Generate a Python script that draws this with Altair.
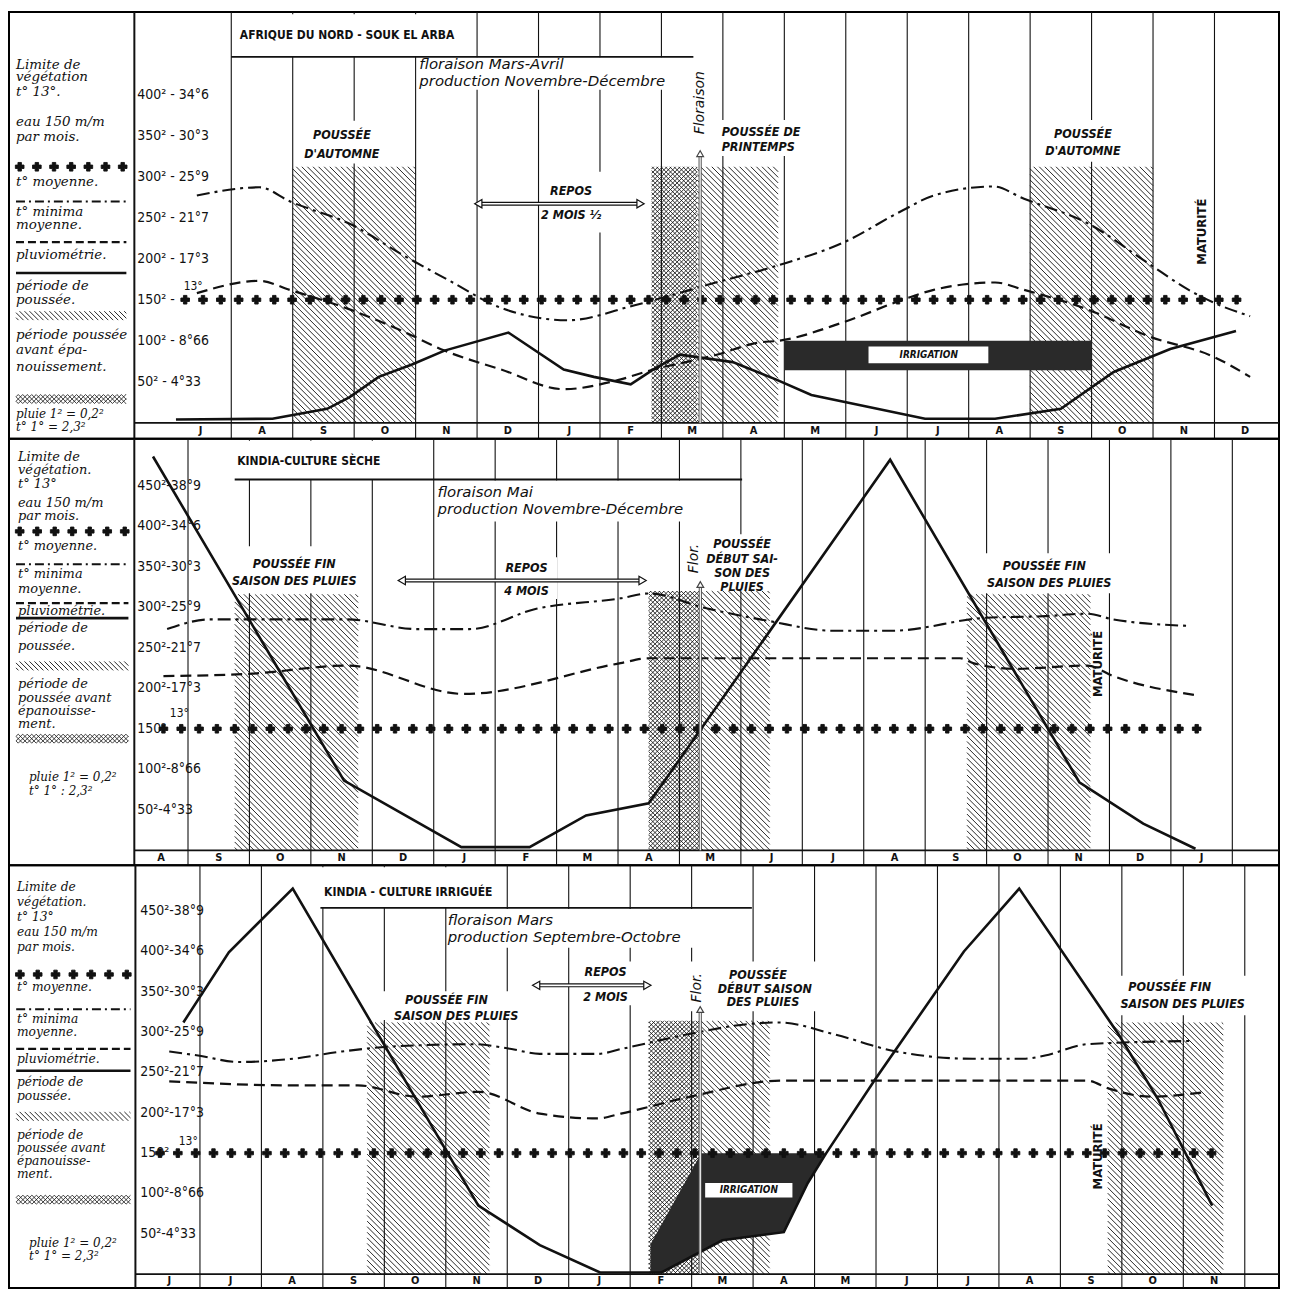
import altair as alt
import numpy as np
import pandas as pd

# ============================ DATA ============================
LIMIT = 150  # limite de végétation : t° 13° / eau 150 m/m par mois

# ---- Panel 1 : Afrique du Nord - Souk el Arba (x = months from July, y = chart units)
P1_MONTHS = ["J", "A", "S", "O", "N", "D", "J", "F", "M", "A", "M", "J", "J", "A", "S", "O", "N", "D"]
P1_RAIN_M = [0.10, 1.67, 2.56, 2.92, 3.40, 3.94, 4.47, 5.51, 6.41, 6.90, 7.50, 7.87, 8.30, 9.16, 9.86,
             10.44, 12.29, 13.43, 14.50, 15.36, 16.28, 17.35]
P1_RAIN = [4, 5, 17, 31, 56, 71, 88, 110, 65, 56, 47, 65, 83, 74, 53, 34, 5, 5, 17, 62, 90, 112]
P1_TMEAN_M = [0.44, 1.46, 1.95, 2.97, 3.78, 4.58, 5.39, 6.48, 7.55, 8.47, 8.84, 9.86, 10.94, 11.93,
              12.43, 13.40, 13.90, 14.94, 15.91, 16.58, 17.00, 17.58]
P1_TMEAN = [277, 287, 270, 241, 205, 172, 140, 125, 143, 162, 170, 191, 219, 259, 277, 288, 273, 243,
            195, 162, 146, 130]
P1_TMIN_M = [0.44, 1.46, 1.95, 2.97, 3.78, 4.47, 5.39, 6.41, 7.29, 7.87, 8.52, 8.90, 9.60, 9.91, 10.94,
             11.93, 12.43, 13.43, 13.90, 14.94, 15.91, 17.00, 17.58]
P1_TMIN = [158, 173, 162, 137, 112, 88, 65, 41, 52, 65, 76, 83, 98, 100, 122, 150, 162, 171, 162, 138,
           106, 80, 56]

# ---- Panel 2 : Kindia - culture sèche (months from August)
P2_MONTHS = ["A", "S", "O", "N", "D", "J", "F", "M", "A", "M", "J", "J", "A", "S", "O", "N", "D", "J"]
P2_RAIN_M = [0.43, 3.54, 5.45, 6.56, 7.48, 8.50, 12.43, 15.51, 16.55, 17.40]
P2_RAIN = [486, 86, 4, 4, 43, 58, 482, 84, 33, 2]
P2_TMEAN_M = [0.66, 1.36, 3.58, 4.73, 5.58, 6.67, 8.04, 8.50, 9.42, 10.46, 11.49, 12.46, 13.99, 14.96,
              15.64, 16.06, 17.27]
P2_TMEAN = [273, 285, 285, 273, 273, 298, 311, 317, 299, 283, 271, 271, 287, 289, 292, 285, 277]
P2_TMIN_M = [0.60, 2.04, 3.58, 5.49, 8.04, 8.50, 13.57, 13.78, 14.47, 15.64, 16.06, 17.44]
P2_TMIN = [215, 218, 228, 193, 231, 237, 237, 231, 224, 228, 215, 191]

# ---- Panel 3 : Kindia - culture irriguée (months from June)
P3_MONTHS = ["J", "J", "A", "S", "O", "N", "D", "J", "F", "M", "A", "M", "J", "J", "A", "S", "O", "N"]
P3_RAIN_M = [0.73, 1.47, 2.51, 5.53, 6.53, 7.51, 8.51, 9.50, 10.50, 10.89, 11.19, 11.99, 13.43, 14.33,
             15.94, 16.58, 17.47]
P3_RAIN = [312, 399, 478, 85, 36, 2, 2, 42, 52, 113, 150, 242, 400, 478, 298, 218, 85]
P3_TMEAN_M = [0.50, 0.97, 1.63, 2.51, 3.31, 4.09, 5.47, 6.07, 6.53, 7.47, 7.85, 8.98, 9.92, 10.43, 11.29,
              12.33, 13.57, 14.40, 14.75, 15.43, 17.10]
P3_TMEAN = [276, 271, 263, 267, 276, 282, 285, 279, 273, 273, 279, 298, 310, 312, 298, 276, 267, 267,
            271, 285, 289]
P3_TMIN_M = [0.50, 2.51, 3.57, 4.53, 5.53, 6.53, 7.47, 7.85, 8.98, 10.47, 15.43, 15.79, 16.47, 17.38]
P3_TMIN = [239, 234, 234, 220, 226, 199, 193, 199, 220, 240, 240, 230, 220, 226]

# ---- scale labels (pluviométrie / température)
P1_TICKS = [400, 350, 300, 250, 200, 150, 100, 50]
P1_TICK_LABELS = ["400² - 34°6", "350² - 30°3", "300² - 25°9", "250² - 21°7", "200² - 17°3",
                  "150² -", "100² - 8°66", "50² - 4°33"]
P23_TICKS = [450, 400, 350, 300, 250, 200, 150, 100, 50]
P23_TICK_LABELS = ["450²-38°9", "400²-34°6", "350²-30°3", "300²-25°9", "250²-21°7", "200²-17°3",
                   "150²", "100²-8°66", "50²-4°33"]

# ============================ STYLE / LAYOUT ============================
W = 1274
F_COND = "Liberation Sans Narrow, DejaVu Sans Condensed, Roboto, sans-serif"
F_SANS = "DejaVu Sans, Liberation Sans, sans-serif"
F_HAND = "DejaVu Serif, Liberation Serif, serif"
INK = "#111111"

PANELS = [
    dict(
        xdom=(-2.617, 18.05), ydom=(-19.3, 500.6), height=428, legend_m=-0.577, grid_k=range(1, 18),
        months=P1_MONTHS, ticks=P1_TICKS, tick_labels=P1_TICK_LABELS, tick_m=-0.53, thirteen=(0.38, 167),
        cross_span=(0.25, 17.37),
        rain=(P1_RAIN_M, P1_RAIN), tmean=(P1_TMEAN_M, P1_TMEAN), tmin=(P1_TMIN_M, P1_TMIN),
        hatch=[(2.0, 4.0, 312), (8.58, 9.9, 312), (14.0, 16.0, 312)], xhatch=[(7.84, 8.58, 312)],
        blanks=[(1.02, 4.9, 446.5, 498), (4.02, 8.5, 406, 445.5), (2.11, 3.61, 316, 368),
                (6.04, 7.08, 232, 306), (8.95, 10.49, 325, 369), (14.21, 15.51, 318, 369)],
        title=("AFRIQUE DU NORD - SOUK EL ARBA", 1.14, 473), underline=(1.0, 8.52, 446),
        flor=[("floraison Mars-Avril", 4.06, 437), ("production Novembre-Décembre", 4.06, 416)],
        caps_c=[("POUSSÉE", 2.80, 351), ("D'AUTOMNE", 2.80, 327), ("REPOS", 6.53, 282),
                ("2 MOIS ½", 6.53, 253), ("POUSSÉE", 14.86, 352), ("D'AUTOMNE", 14.86, 331)],
        caps_l=[("POUSSÉE DE", 8.98, 354), ("PRINTEMPS", 8.98, 336)],
        repos=(5.02, 7.66, 267), arrow=(8.63, 328), arrow_text=("Floraison", 8.63, 390), maturite=(16.79, 233),
        irrig_rect=(10.0, 15.0, 64, 100), irrig_box=(11.37, 13.32, 72.5, 93), irrig_text=(12.35, 82.7),
        leg_m=-2.503, sym=(-2.503, -0.707), leg_font=13.5,
        leg_lines=[("Limite de", 436.5), ("végétation", 420.8), ("t° 13°.", 402.7), ("eau 150 m/m", 366.4),
                   ("par mois.", 348.2), ("t° moyenne.", 293.8), ("t° minima", 256.3), ("moyenne.", 240.6),
                   ("pluviométrie.", 204.4), ("période de", 166.9), ("poussée.", 149.9),
                   ("période poussée", 107.6), ("avant épa-", 88.3), ("nouissement.", 67.7)],
        leg_tail=[("pluie 1² = 0,2²", 10.5), ("t° 1° = 2,3²", -5.5)], tail_m=-2.503,
        sym_v=dict(cross=312, dashdot=269.6, dashed=220.1, solid=182.6, hatch=130.6, xhatch=29),
    ),
    dict(
        xdom=(-1.914, 18.76), ydom=(-18.5, 508.0), height=428, legend_m=0.126, grid_k=range(1, 19),
        months=P2_MONTHS, ticks=P23_TICKS, tick_labels=P23_TICK_LABELS, tick_m=0.175, thirteen=(0.86, 170),
        cross_span=(0.60, 17.6),
        rain=(P2_RAIN_M, P2_RAIN), tmean=(P2_TMEAN_M, P2_TMEAN), tmin=(P2_TMIN_M, P2_TMIN),
        hatch=[(1.76, 3.77, 316), (9.34, 10.47, 320), (13.68, 15.69, 316)], xhatch=[(8.50, 9.34, 320)],
        blanks=[(1.76, 4.94, 458.2, 505.5), (5.06, 9.58, 405.9, 456.3), (1.76, 3.77, 317.3, 375.2),
                (6.02, 7.01, 310, 361.6), (9.15, 10.73, 319.8, 390), (13.92, 16.16, 317.3, 366.5)],
        title=("KINDIA-CULTURE SÈCHE", 1.80, 480), underline=(1.76, 10.02, 457.6),
        flor=[("floraison Mai", 5.06, 442), ("production Novembre-Décembre", 5.06, 421)],
        caps_c=[("POUSSÉE FIN", 2.73, 353), ("SAISON DES PLUIES", 2.73, 332), ("REPOS", 6.51, 349),
                ("4 MOIS", 6.51, 320), ("POUSSÉE", 10.02, 378), ("DÉBUT SAI-", 10.02, 360),
                ("SON DES", 10.02, 342), ("PLUIES", 10.02, 325), ("POUSSÉE FIN", 14.94, 350.5),
                ("SAISON DES PLUIES", 15.02, 330)],
        caps_l=[],
        repos=(4.48, 8.40, 333), arrow=(9.34, 328), arrow_text=("Flor.", 9.24, 360), maturite=(15.81, 230),
        leg_m=-1.768, sym=(-1.80, 0.03), leg_font=13,
        leg_lines=[("Limite de", 485.9), ("végétation.", 469.9), ("t° 13°", 452.6), ("eau 150 m/m", 428.0),
                   ("par mois.", 412.1), ("t° moyenne.", 375.2), ("t° minima", 340.7), ("moyenne.", 322.3),
                   ("pluviométrie.", 295.2), ("période de", 274.3), ("poussée.", 252.2),
                   ("période de", 205.4), ("poussée avant", 188.2), ("épanouisse-", 172.2), ("ment.", 156.2)],
        leg_tail=[("pluie 1² = 0,2²", 90.5), ("t° 1° : 2,3²", 73.0)], tail_m=-1.59,
        sym_v=dict(cross=393.6, dashdot=353, dashed=305, solid=286.6, hatch=227.6, xhatch=137.8),
    ),
    dict(
        xdom=(-2.107, 18.557), ydom=(-17.2, 506.8), height=424, legend_m=-0.05, grid_k=range(1, 19),
        months=P3_MONTHS, ticks=P23_TICKS, tick_labels=P23_TICK_LABELS, tick_m=0.03, thirteen=(0.81, 165),
        cross_span=(0.35, 17.59),
        rain=(P3_RAIN_M, P3_RAIN), tmean=(P3_TMEAN_M, P3_TMEAN), tmin=(P3_TMIN_M, P3_TMIN),
        hatch=[(3.72, 5.71, 312), (9.14, 10.27, 314), (15.77, 17.65, 312)], xhatch=[(8.30, 9.14, 314)],
        blanks=[(2.96, 5.90, 454.5, 504.5), (5.08, 9.30, 404.7, 452.6), (7.12, 8.09, 333.3, 387.5),
                (3.96, 6.39, 314.9, 350.6), (8.94, 11.15, 326, 387.5), (15.77, 18.23, 321, 370)],
        title=("KINDIA - CULTURE IRRIGUÉE", 3.02, 473.5), underline=(2.96, 9.98, 454),
        flor=[("floraison Mars", 5.03, 439), ("production Septembre-Octobre", 5.03, 418)],
        caps_c=[("REPOS", 7.60, 374), ("2 MOIS", 7.60, 343), ("POUSSÉE FIN", 5.01, 339.5),
                ("SAISON DES PLUIES", 5.17, 320), ("POUSSÉE", 10.08, 371), ("DÉBUT SAISON", 10.19, 353),
                ("DES PLUIES", 10.16, 337), ("POUSSÉE FIN", 16.78, 355.5), ("SAISON DES PLUIES", 16.99, 334.6)],
        caps_l=[],
        repos=(6.47, 8.28, 358), arrow=(9.14, 328), arrow_text=("Flor.", 9.09, 355), maturite=(15.61, 146),
        irrig_area=dict(start=8.33, edge_top=(8.33, 37, 9.155), end=11.19),
        irrig_box=(9.22, 10.64, 95, 113), irrig_text=(9.93, 104),
        leg_m=-1.977, sym=(-1.99, -0.13), leg_font=12.3,
        leg_lines=[("Limite de", 479.7), ("végétation.", 461.3), ("t° 13°", 442.8), ("eau 150 m/m", 424.4),
                   ("par mois.", 405.9), ("t° moyenne.", 355.5), ("t° minima", 316.1), ("moyenne.", 300.1),
                   ("pluviométrie.", 266.9), ("période de", 238.6), ("poussée.", 220.2),
                   ("période de", 173.0), ("poussée avant", 156.5), ("épanouisse-", 140.0), ("ment.", 123.5)],
        leg_tail=[("pluie 1² = 0,2²", 39.0), ("t° 1° = 2,3²", 22.0)], tail_m=-1.78,
        sym_v=dict(cross=371.5, dashdot=328.4, dashed=279.2, solid=252.2, hatch=195.6, xhatch=92.3),
    ),
]


def hatch_rows(xa, xb, ya, yb, kx, ky, step, kind):
    """Diagonal hatch segments clipped to a rectangle (computed in screen space)."""
    w = (xb - xa) * kx
    h = (yb - ya) * ky
    out = []
    if kind == "back":
        for c in np.arange(-h + step / 2.0, w, step):
            t1, t2 = max(0.0, -c), min(h, w - c)
            if t2 - t1 > 0.3:
                out.append(dict(x=xa + (c + t1) / kx, y=yb - t1 / ky, x2=xa + (c + t2) / kx, y2=yb - t2 / ky))
    else:
        for c in np.arange(step / 2.0, w + h, step):
            t1, t2 = max(0.0, c - w), min(h, c)
            if t2 - t1 > 0.3:
                out.append(dict(x=xa + (c - t1) / kx, y=yb - t1 / ky, x2=xa + (c - t2) / kx, y2=yb - t2 / ky))
    return out


def build(c):
    x0, x1 = c["xdom"]
    y0, y1 = c["ydom"]
    H = c["height"]
    kx = W / (x1 - x0)
    ky = H / (y1 - y0)
    xs = alt.Scale(domain=[x0, x1], nice=False, zero=False)
    ys = alt.Scale(domain=[y0, y1], nice=False, zero=False)

    def X(f="x"):
        return alt.X(f, type="quantitative", scale=xs, axis=None)

    def Y(f="y"):
        return alt.Y(f, type="quantitative", scale=ys, axis=None)

    def rules(rows, **kw):
        return alt.Chart(pd.DataFrame(rows)).mark_rule(**kw).encode(
            x=X(), x2=alt.X2("x2"), y=Y(), y2=alt.Y2("y2"))

    def rects(rows, **kw):
        return alt.Chart(pd.DataFrame(rows)).mark_rect(**kw).encode(
            x=X(), x2=alt.X2("x2"), y=Y(), y2=alt.Y2("y2"))

    def texts(rows, **kw):
        df = pd.DataFrame(rows, columns=["t", "x", "y"])
        return alt.Chart(df).mark_text(**kw).encode(x=X(), y=Y(), text=alt.Text("t:N"))

    def points(xv, yv, **kw):
        df = pd.DataFrame({"x": list(xv), "y": list(yv)})
        return alt.Chart(df).mark_point(**kw).encode(x=X(), y=Y())

    def line(xv, yv, **kw):
        df = pd.DataFrame({"x": xv, "y": yv})
        return alt.Chart(df).mark_line(**kw).encode(x=X(), y=Y())

    cross_style = dict(shape="cross", filled=True, size=75, color=INK, stroke=INK, strokeWidth=0.9, opacity=1)

    L = []
    # month grid lines and frame of the left legend column
    L.append(rules([dict(x=k, x2=k, y=y0, y2=y1) for k in c["grid_k"]], color=INK, strokeWidth=1.1))
    # white patches where the printed texts interrupt the grid
    L.append(rects([dict(x=a, x2=b, y=lo, y2=hi) for a, b, lo, hi in c["blanks"]], color="white"))
    L.append(rules([dict(x=c["legend_m"], x2=c["legend_m"], y=y0, y2=y1)], color=INK, strokeWidth=2))
    L.append(rules([dict(x=c["legend_m"], x2=x1, y=0, y2=0)], color=INK, strokeWidth=1.8))
    # title cell underline
    ua, ub, uv = c["underline"]
    L.append(rules([dict(x=ua, x2=ub, y=uv, y2=uv)], color=INK, strokeWidth=1.8))

    # hatched growth periods and cross-hatched pre-blooming periods
    hrows = []
    for a, b, top in c["hatch"]:
        hrows += hatch_rows(a, b, 0, top, kx, ky, 5.6, "back")
    L.append(rules(hrows, color=INK, strokeWidth=0.9))
    xrows = []
    for a, b, top in c["xhatch"]:
        xrows += hatch_rows(a, b, 0, top, kx, ky, 4.4, "back")
        xrows += hatch_rows(a, b, 0, top, kx, ky, 4.4, "fwd")
    L.append(rules(xrows, color=INK, strokeWidth=0.85))

    # irrigation
    if "irrig_rect" in c:
        a, b, lo, hi = c["irrig_rect"]
        L.append(rects([dict(x=a, x2=b, y=lo, y2=hi)], color="#2a2a2a"))
    if "irrig_area" in c:
        ia = c["irrig_area"]
        e0, ev, e1 = ia["edge_top"]
        rm, rv = c["rain"]
        ms = sorted(set([ia["start"], e1, ia["end"]] + [m for m in rm if ia["start"] < m < ia["end"]]))
        ms = np.array(ms)
        top = np.minimum(LIMIT, np.interp(ms, [e0, e1], [ev, LIMIT]))
        bot = np.interp(ms, rm, rv)
        dfa = pd.DataFrame({"x": ms, "y": top, "y2": bot})
        L.append(alt.Chart(dfa).mark_area(color="#2a2a2a", opacity=1).encode(x=X(), y=Y(), y2=alt.Y2("y2")))
    if "irrig_box" in c:
        a, b, lo, hi = c["irrig_box"]
        L.append(rects([dict(x=a, x2=b, y=lo, y2=hi)], color="white"))
        tx, ty = c["irrig_text"]
        L.append(texts([("IRRIGATION", tx, ty)], font=F_COND, fontSize=10, fontStyle="italic",
                       fontWeight="bold", align="center", baseline="middle", color=INK))

    # limit of vegetation (crosses), temperatures and rainfall
    ca, cb = c["cross_span"]
    cx = np.arange(ca, cb + 1e-6, 0.29)
    L.append(points(cx, [LIMIT] * len(cx), **cross_style))
    L.append(line(*c["tmean"], color=INK, strokeWidth=2.1, strokeDash=[13, 5, 3, 5], interpolate="monotone"))
    L.append(line(*c["tmin"], color=INK, strokeWidth=2.2, strokeDash=[11, 6], interpolate="monotone"))
    L.append(line(*c["rain"], color=INK, strokeWidth=2.6))

    # REPOS double arrow
    ra, rb, rv_ = c["repos"]
    L.append(rules([dict(x=ra, x2=rb, y=rv_, y2=rv_)], color=INK, strokeWidth=4))
    L.append(rules([dict(x=ra, x2=rb, y=rv_, y2=rv_)], color="white", strokeWidth=1.6))
    L.append(points([ra], [rv_], shape="triangle-left", filled=True, fill="white", stroke=INK,
                    strokeWidth=1.2, size=70, opacity=1))
    L.append(points([rb], [rv_], shape="triangle-right", filled=True, fill="white", stroke=INK,
                    strokeWidth=1.2, size=70, opacity=1))

    # floraison arrow
    am, av = c["arrow"]
    L.append(rules([dict(x=am, x2=am, y=0, y2=av)], color="#555555", strokeWidth=3.2))
    L.append(rules([dict(x=am, x2=am, y=0, y2=av)], color="white", strokeWidth=1.2))
    L.append(points([am], [av], shape="triangle-up", filled=True, fill="white", stroke="#444444",
                    strokeWidth=1.2, size=45, opacity=1))
    L.append(texts([c["arrow_text"]], font=F_SANS, fontSize=14, fontStyle="italic", angle=270,
                   align="center", baseline="middle", color=INK))

    # texts
    L.append(texts([c["title"]], font=F_COND, fontSize=12, fontWeight="bold", align="left",
                   baseline="middle", color=INK))
    L.append(texts(c["flor"], font=F_SANS, fontSize=15, fontStyle="italic", align="left",
                   baseline="middle", color=INK))
    L.append(texts(c["caps_c"], font=F_COND, fontSize=12.5, fontStyle="italic", fontWeight="bold",
                   align="center", baseline="middle", color=INK))
    if c["caps_l"]:
        L.append(texts(c["caps_l"], font=F_COND, fontSize=12.5, fontStyle="italic", fontWeight="bold",
                       align="left", baseline="middle", color=INK))
    mx, mv = c["maturite"]
    L.append(texts([("MATURITÉ", mx, mv)], font=F_COND, fontSize=13, fontWeight="bold", angle=270,
                   align="center", baseline="middle", color=INK))
    # value scale labels
    L.append(texts([(lab, c["tick_m"], v) for lab, v in zip(c["tick_labels"], c["ticks"])],
                   font=F_COND, fontSize=14, align="left", baseline="middle", color=INK))
    tm, tv = c["thirteen"]
    L.append(texts([("13°", tm, tv)], font=F_COND, fontSize=12, align="center", baseline="middle", color=INK))
    # month strip labels
    mid = y0 / 2.0
    mrows = []
    for i, mlab in enumerate(c["months"]):
        left = max(i, c["legend_m"])
        mrows.append((mlab, (left + i + 1) / 2.0, mid))
    L.append(texts(mrows, font=F_COND, fontSize=11, fontWeight="bold", align="center",
                   baseline="middle", color=INK))

    # legend column
    lm = c["leg_m"]
    L.append(texts([(t, lm, v) for t, v in c["leg_lines"]], font=F_HAND, fontSize=c["leg_font"],
                   fontStyle="italic", align="left", baseline="middle", color=INK))
    L.append(texts([(t, c["tail_m"], v) for t, v in c["leg_tail"]], font=F_HAND, fontSize=12,
                   fontStyle="italic", align="left", baseline="middle", color=INK))
    s0, s1 = c["sym"]
    sv = c["sym_v"]
    L.append(points(np.linspace(s0 + 0.06, s1 - 0.06, 7), [sv["cross"]] * 7, **cross_style))
    L.append(rules([dict(x=s0, x2=s1, y=sv["dashdot"], y2=sv["dashdot"])], color=INK, strokeWidth=2.1,
                   strokeDash=[9, 4, 2, 4]))
    L.append(rules([dict(x=s0, x2=s1, y=sv["dashed"], y2=sv["dashed"])], color=INK, strokeWidth=2.2,
                   strokeDash=[8, 4]))
    L.append(rules([dict(x=s0, x2=s1, y=sv["solid"], y2=sv["solid"])], color=INK, strokeWidth=2.6))
    half = 4.5 / ky
    L.append(rules(hatch_rows(s0, s1, sv["hatch"] - half, sv["hatch"] + half, kx, ky, 5.0, "back"),
                   color=INK, strokeWidth=0.9))
    xr = hatch_rows(s0, s1, sv["xhatch"] - half, sv["xhatch"] + half, kx, ky, 4.5, "back")
    xr += hatch_rows(s0, s1, sv["xhatch"] - half, sv["xhatch"] + half, kx, ky, 4.5, "fwd")
    L.append(rules(xr, color=INK, strokeWidth=0.8))

    return alt.layer(*L).properties(width=W, height=H)


chart = alt.vconcat(*[build(p) for p in PANELS], spacing=0, bounds="flush").configure_view(
    stroke="black", strokeWidth=2
).properties(padding=0, background="white")

chart.save("out.html", embed_options={"renderer": "svg", "actions": False})
